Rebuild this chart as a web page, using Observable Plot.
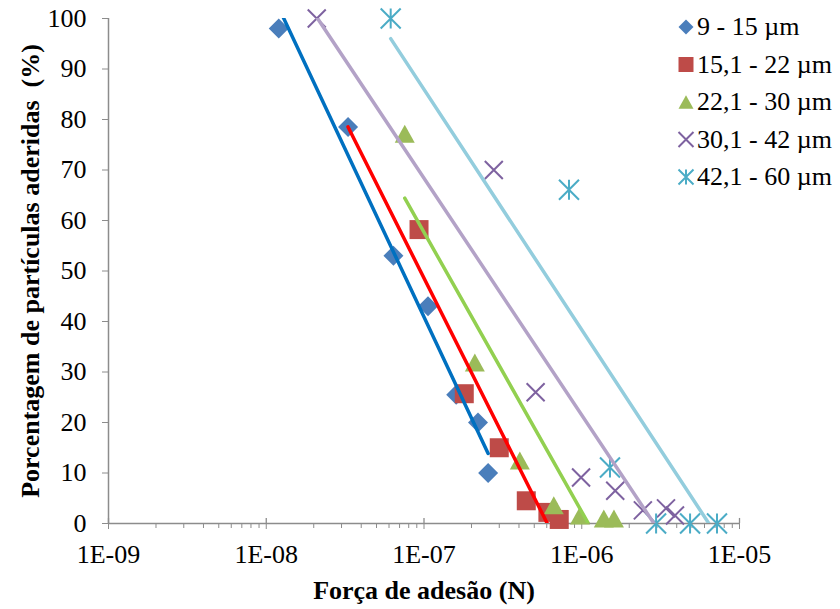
<!DOCTYPE html>
<html>
<head>
<meta charset="utf-8">
<script src="https://cdn.jsdelivr.net/npm/d3@7"></script>
<script src="https://cdn.jsdelivr.net/npm/@observablehq/plot@0.6"></script>
<style>
  html, body { margin: 0; padding: 0; background: white; }
</style>
</head>
<body>
<div id="chart"></div>
<script>
// ---------- data ----------
const seriesNames = ["9 - 15 µm", "15,1 - 22 µm", "22,1 - 30 µm", "30,1 - 42 µm", "42,1 - 60 µm"];

const forceS1 = [1.2e-8, 3.3e-8, 6.4e-8, 1.06e-7, 1.6e-7, 2.2e-7, 2.55e-7];
const pctS1   = [98, 78.5, 53, 43, 25.5, 20, 10];

const forceS2 = [9.3e-8, 1.8e-7, 3.0e-7, 4.45e-7, 6.1e-7, 7.2e-7];
const pctS2   = [58.2, 25.7, 15, 4.5, 2.2, 0.8];

const forceS3 = [7.55e-8, 2.1e-7, 4.05e-7, 6.65e-7, 9.75e-7, 1.38e-6, 1.6e-6];
const pctS3   = [77.2, 31.9, 12.5, 3.6, 1.6, 1, 1];

const forceS4 = [2.09e-8, 2.77e-7, 5.1e-7, 9.9e-7, 1.63e-6, 2.44e-6, 3.42e-6, 3.9e-6];
const pctS4   = [100, 70, 26, 9.1, 6.5, 2.6, 3, 1.6];

const forceS5 = [6.15e-8, 8.3e-7, 1.51e-6, 2.96e-6, 4.86e-6, 7.2e-6];
const pctS5   = [100, 66.1, 11.1, 0, 0, 0];

// logarithmic trend lines: pct = slope * log10(force) + intercept
const trendSlope     = [-66.5, -62.18, -55.34, -46.9, -47.6];
const trendIntercept = [-424.6, -386.67, -329.72, -259.92, -247.24];
const trendFrom      = [1.2e-8, 3.3e-8, 7.55e-8, 2.09e-8, 6.15e-8];
const trendTo        = [2.55e-7, 7.2e-7, 1.6e-6, 3.9e-6, 7.2e-6];

const xMajor = [1e-9, 1e-8, 1e-7, 1e-6, 1e-5];
const xTickLabels = ["1E-09", "1E-08", "1E-07", "1E-06", "1E-05"];
const yTicks = [0, 10, 20, 30, 40, 50, 60, 70, 80, 90, 100];

const xTitle = "Força de adesão (N)";
const yTitle = "Porcentagem de partículas aderidas\u00a0 (%)";

// ---------- styles ----------
const markerColors = ["#4A7EBB", "#BE4B48", "#9BBB59", "#7E62A0", "#4BACC6"];
const lineColors   = ["#0070C0", "#FF0000", "#92D050", "#B3A2C7", "#93CDDD"];
const gray = "#8C8C8C";
const font = "'Liberation Serif', 'Times New Roman', serif";

const symDiamond = {draw(ctx, size) { const r = Math.sqrt(size / Math.PI);
  ctx.moveTo(0, -r); ctx.lineTo(r, 0); ctx.lineTo(0, r); ctx.lineTo(-r, 0); ctx.closePath(); }};
const symSquare = {draw(ctx, size) { const r = Math.sqrt(size / Math.PI);
  ctx.moveTo(-r, -r); ctx.lineTo(r, -r); ctx.lineTo(r, r); ctx.lineTo(-r, r); ctx.closePath(); }};
const symTriangle = {draw(ctx, size) { const r = Math.sqrt(size / Math.PI);
  ctx.moveTo(0, -0.9 * r); ctx.lineTo(r, 0.9 * r); ctx.lineTo(-r, 0.9 * r); ctx.closePath(); }};
const symTimes = {draw(ctx, size) { const r = Math.sqrt(size / Math.PI);
  ctx.moveTo(-r, -r); ctx.lineTo(r, r); ctx.moveTo(r, -r); ctx.lineTo(-r, r); }};
const symStar = {draw(ctx, size) { const r = Math.sqrt(size / Math.PI);
  ctx.moveTo(-r, -r); ctx.lineTo(r, r); ctx.moveTo(r, -r); ctx.lineTo(-r, r);
  ctx.moveTo(0, -r); ctx.lineTo(0, r); }};

const symbols = [symDiamond, symSquare, symTriangle, symTimes, symStar];
const filled  = [true, true, true, false, false];
const radii   = [10, 9.5, 10, 9, 10];

const forces = [forceS1, forceS2, forceS3, forceS4, forceS5];
const pcts   = [pctS1, pctS2, pctS3, pctS4, pctS5];

const tables = forces.map((fs, i) => fs.map((f, j) => ({force: f, pct: pcts[i][j]})));

const dotMarks = tables.map((t, i) => Plot.dot(t, {
  x: "force", y: "pct", symbol: symbols[i], r: radii[i],
  fill: filled[i] ? markerColors[i] : "none",
  stroke: filled[i] ? "none" : markerColors[i],
  strokeWidth: filled[i] ? 0 : 2
}));

const lineMarks = seriesNames.map((_, i) => {
  const pts = [trendFrom[i], trendTo[i]].map(f => ({force: f, pct: trendSlope[i] * Math.log10(f) + trendIntercept[i]}));
  return Plot.line(pts, {x: "force", y: "pct", stroke: lineColors[i], strokeWidth: 3.5, clip: true});
});

const xMinor = [];
for (const d of xMajor.slice(0, -1)) for (let k = 2; k <= 9; k++) xMinor.push(d * k);

const chart = Plot.plot({
  width: 840, height: 609,
  marginLeft: 108, marginRight: 101, marginTop: 18, marginBottom: 86,
  style: {fontFamily: font, background: "white", color: "black", overflow: "visible"},
  x: {type: "log", domain: [1e-9, 1e-5]},
  y: {domain: [0, 100]},
  marks: [
    Plot.axisY({ticks: yTicks, tickSize: 6, tickPadding: 16, fontSize: 26, stroke: gray, fill: "black",
      label: null, tickFormat: d => String(d)}),
    Plot.axisX({ticks: xMajor, tickSize: 6, tickPadding: 15, fontSize: 26, stroke: gray, fill: "black",
      label: null, tickFormat: d => xTickLabels[xMajor.indexOf(d)]}),
    Plot.axisX({ticks: xMinor, tickSize: 5, stroke: gray, label: null, tickFormat: () => ""}),
    Plot.ruleX(xMajor, {y1: 0, y2: 1, stroke: gray, strokeWidth: 1.3}),
    Plot.ruleY([0], {stroke: gray, strokeWidth: 1.5}),
    Plot.ruleX([1e-9], {stroke: gray, strokeWidth: 1.5}),
    ...dotMarks,
    ...lineMarks,
    Plot.text([yTitle], {frameAnchor: "left", dx: -78, rotate: -90, textAnchor: "middle", lineAnchor: "middle",
      fontWeight: "bold", fontSize: 26, fill: "black"}),
    Plot.text([xTitle], {frameAnchor: "bottom", dy: 67, textAnchor: "middle", lineAnchor: "middle",
      fontWeight: "bold", fontSize: 26, fill: "black"})
  ]
});

// legend
const svg = d3.select(chart);
const lg = svg.append("g").attr("font-family", font).attr("font-size", 26).attr("text-anchor", "start");
seriesNames.forEach((name, i) => {
  lg.append("path")
    .attr("transform", `translate(686,${27 + 37.5 * i})`)
    .attr("d", d3.symbol(symbols[i], Math.PI * 7.5 * 7.5)())
    .attr("fill", filled[i] ? markerColors[i] : "none")
    .attr("stroke", filled[i] ? "none" : markerColors[i])
    .attr("stroke-width", 2);
  lg.append("text").attr("x", 697).attr("y", 35 + 37.5 * i).attr("fill", "black")
    .attr("text-anchor", "start").text(name);
});

document.getElementById("chart").appendChild(chart);
</script>
</body>
</html>
